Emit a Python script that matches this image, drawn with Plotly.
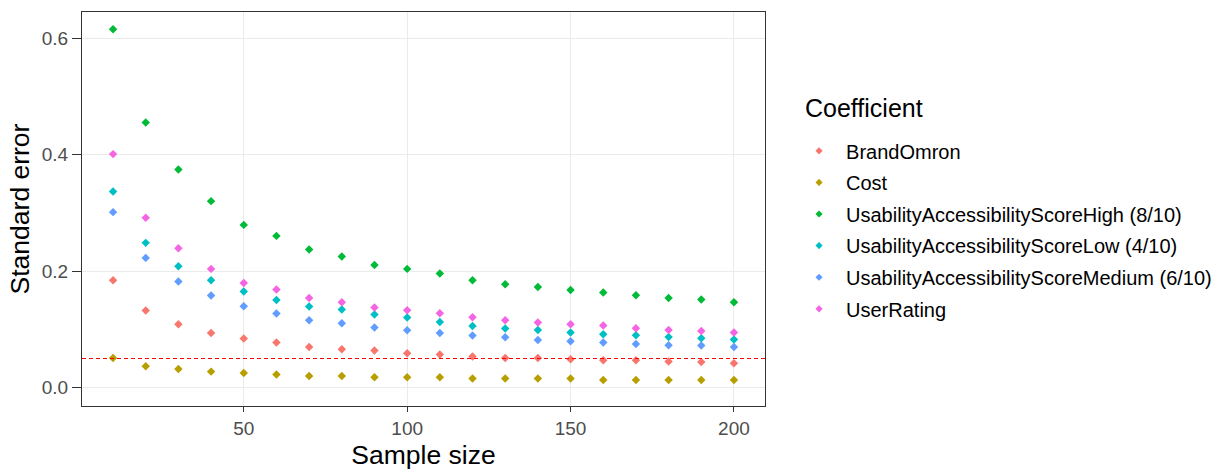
import plotly.graph_objects as go

sample_size = [10, 20, 30, 40, 50, 60, 70, 80, 90, 100, 110, 120, 130, 140, 150, 160, 170, 180, 190, 200]

brand_omron = [0.1845, 0.1324, 0.1089, 0.0939, 0.0843, 0.0774, 0.0698, 0.0659, 0.0636, 0.0590,
               0.0568, 0.0533, 0.0509, 0.0509, 0.0487, 0.0469, 0.0469, 0.0447, 0.0441, 0.0418]
cost = [0.0509, 0.0366, 0.0320, 0.0275, 0.0251, 0.0224, 0.0200, 0.0200, 0.0177, 0.0177,
        0.0177, 0.0155, 0.0155, 0.0155, 0.0155, 0.0131, 0.0131, 0.0131, 0.0131, 0.0131]
high = [0.6156, 0.4557, 0.3749, 0.3204, 0.2796, 0.2607, 0.2373, 0.2253, 0.2108, 0.2040,
        0.1960, 0.1845, 0.1776, 0.1730, 0.1678, 0.1634, 0.1587, 0.1541, 0.1513, 0.1467]
low = [0.3371, 0.2487, 0.2086, 0.1845, 0.1651, 0.1507, 0.1393, 0.1341, 0.1255, 0.1204,
       0.1128, 0.1059, 0.1015, 0.0991, 0.0946, 0.0917, 0.0899, 0.0871, 0.0848, 0.0825]
medium = [0.3015, 0.2229, 0.1823, 0.1582, 0.1398, 0.1273, 0.1157, 0.1106, 0.1032, 0.0985,
          0.0939, 0.0894, 0.0865, 0.0819, 0.0796, 0.0774, 0.0750, 0.0727, 0.0722, 0.0698]
user_rating = [0.4012, 0.2917, 0.2396, 0.2040, 0.1799, 0.1685, 0.1541, 0.1467, 0.1376, 0.1329,
               0.1278, 0.1209, 0.1157, 0.1118, 0.1089, 0.1066, 0.1020, 0.0991, 0.0973, 0.0946]

series_names = ["BrandOmron", "Cost", "UsabilityAccessibilityScoreHigh (8/10)",
                "UsabilityAccessibilityScoreLow (4/10)", "UsabilityAccessibilityScoreMedium (6/10)",
                "UserRating"]
series_values = [brand_omron, cost, high, low, medium, user_rating]
colors = ["#F8766D", "#B79F00", "#00BA38", "#00BFC4", "#619CFF", "#F564E3"]
threshold = 0.05

x_ticks = [50, 100, 150, 200]
y_ticks = [0.0, 0.2, 0.4, 0.6]
y_tick_labels = ["0.0", "0.2", "0.4", "0.6"]

FONT = "Liberation Sans, Arial, sans-serif"

fig = go.Figure()
for i, (name, vals, col) in enumerate(zip(series_names, series_values, colors)):
    fig.add_trace(go.Scatter(
        x=sample_size, y=vals, mode="markers", name=name, legendgroup=f"g{i}",
        showlegend=False,
        marker=dict(symbol="diamond", size=6.5, color=col, line=dict(width=0)),
    ))
    # legend entry with the smaller key marker used in the reference
    fig.add_trace(go.Scatter(
        x=[None], y=[None], mode="markers", name=name, legendgroup=f"g{i}",
        showlegend=True, hoverinfo="skip",
        marker=dict(symbol="diamond", size=5.5, color=col, line=dict(width=0)),
    ))

fig.add_shape(type="line", xref="paper", yref="y", x0=0, x1=1, y0=threshold, y1=threshold,
              line=dict(color="red", width=1.2, dash="4px,3px"))

fig.add_annotation(text="Coefficient", xref="paper", yref="paper",
                   x=1.0556, y=0.756, xanchor="left", yanchor="middle", showarrow=False,
                   font=dict(size=25, color="#000000", family=FONT))

fig.update_layout(
    width=1224, height=470, autosize=False,
    margin=dict(l=82, r=459, t=12, b=64),
    plot_bgcolor="white", paper_bgcolor="white",
    font=dict(family=FONT, color="#000000"),
    showlegend=True,
    legend=dict(
        font=dict(size=20, color="#000000", family=FONT),
        xref="container", yref="container",
        x=0.6471, xanchor="left", y=0.7206, yanchor="top",
        traceorder="grouped", tracegroupgap=2.6, itemwidth=44,
        bgcolor="rgba(0,0,0,0)",
    ),
    xaxis=dict(
        range=[0.5, 209.5], tickvals=x_ticks, ticktext=[str(v) for v in x_ticks],
        showgrid=True, gridcolor="#EBEBEB", gridwidth=1,
        zeroline=False, showline=True, linecolor="#333333", linewidth=1.2, mirror=True,
        ticks="outside", ticklen=5, tickcolor="#333333", automargin=False,
        tickfont=dict(size=19, color="#4D4D4D", family=FONT),
        title=dict(text="Sample size", font=dict(size=26.5, color="#000000", family=FONT), standoff=9),
    ),
    yaxis=dict(
        range=[-0.0316, 0.6454], tickvals=y_ticks, ticktext=y_tick_labels,
        showgrid=True, gridcolor="#EBEBEB", gridwidth=1,
        zeroline=False, showline=True, linecolor="#333333", linewidth=1.2, mirror=True,
        ticks="outside", ticklen=9, tickcolor="#333333", automargin=False,
        tickfont=dict(size=19, color="#4D4D4D", family=FONT),
        title=dict(text="Standard error", font=dict(size=26.5, color="#000000", family=FONT), standoff=4),
    ),
)

fig.write_html(
    "out.html",
    config={"responsive": False, "displayModeBar": False},
    post_script=(
        "document.documentElement.style.overflow='hidden';"
        "document.body.style.margin='0';document.body.style.overflow='hidden';"
    ),
)
